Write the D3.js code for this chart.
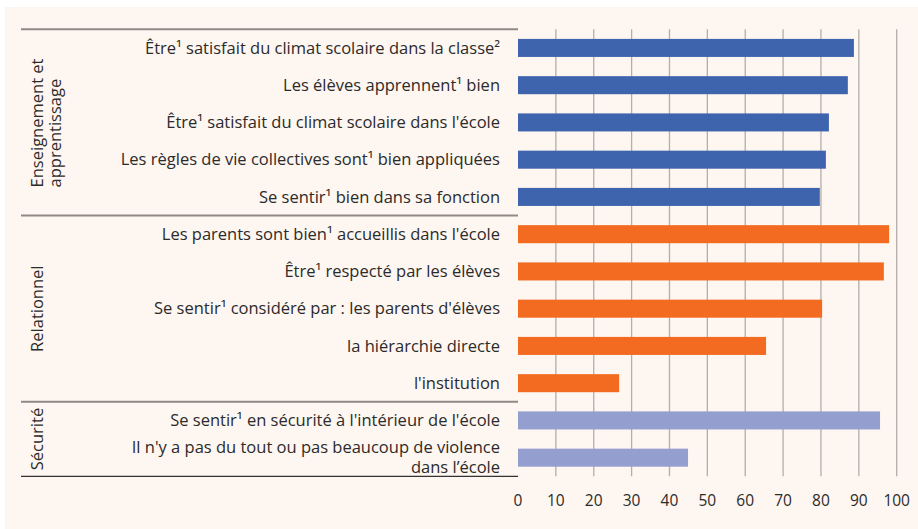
<!DOCTYPE html>
<html><head><meta charset="utf-8">
<script src="https://cdn.jsdelivr.net/npm/d3@7"></script>
<style>
html,body{margin:0;padding:0;background:#ffffff;}
svg{display:block;}
text{font-family:"Open Sans",sans-serif;fill:#2b2b2b;}
</style></head>
<body>
<svg id="chart" width="918" height="529"></svg>
<script>
const categories = [
  "Être¹ satisfait du climat scolaire dans la classe²",
  "Les élèves apprennent¹ bien",
  "Être¹ satisfait du climat scolaire dans l'école",
  "Les règles de vie collectives sont¹ bien appliquées",
  "Se sentir¹ bien dans sa fonction",
  "Les parents sont bien¹ accueillis dans l'école",
  "Être¹ respecté par les élèves",
  "Se sentir¹ considéré par : les parents d'élèves",
  "la hiérarchie directe",
  "l'institution",
  "Se sentir¹ en sécurité à l'intérieur de l'école",
  "Il n'y a pas du tout ou pas beaucoup de violence|dans l’école"
];
const values = [88.7, 87.1, 82.1, 81.3, 79.7, 98.0, 96.6, 80.3, 65.5, 26.7, 95.6, 44.9];
const groupOf = [0,0,0,0,0,1,1,1,1,1,2,2];
const groups = ["Enseignement et|apprentissage", "Relationnel", "Sécurité"];
const groupColors = ["#3f64ae", "#f36b21", "#959fcf"];
const xTicks = [0,10,20,30,40,50,60,70,80,90,100];

const svg = d3.select("#chart");
svg.append("rect").attr("x",5).attr("y",7).attr("width",913).attr("height",522).attr("fill","#fef6f0");

const mLeft = 518, mRight = 896.7, mTop = 29.3, mBottom = 476.3;
const x = d3.scaleLinear().domain([0,100]).range([mLeft,mRight]);
const y = d3.scaleBand().domain(d3.range(categories.length)).range([mTop,mBottom]).paddingInner(0.516).paddingOuter(0.258);

// gridlines
svg.append("g").selectAll("line").data(xTicks.filter(d=>d>0)).join("line")
  .attr("x1",d=>x(d)).attr("x2",d=>x(d)).attr("y1",mTop).attr("y2",mBottom)
  .attr("stroke","#b3aeaa").attr("stroke-width",1.3);

// bars
svg.append("g").selectAll("rect").data(values).join("rect")
  .attr("x",x(0)).attr("y",(d,i)=>y(i)).attr("height",y.bandwidth())
  .attr("width",d=>x(d)-x(0)).attr("fill",(d,i)=>groupColors[groupOf[i]]);

// category labels
categories.forEach((c,i)=>{
  const lines = c.split("|");
  const cy = y(i)+y.bandwidth()/2;
  lines.forEach((l,k)=>{
    svg.append("text").attr("text-anchor","end").style("font-size","16.5px")
      .attr("x",mLeft-18).attr("y",cy + 5.8 + (k-(lines.length-1)/2)*20).text(l);
  });
});

// group separators
const boundaries = [mTop];
for(let i=1;i<categories.length;i++){ if(groupOf[i]!==groupOf[i-1]) boundaries.push(mTop + y.step()*i); }
boundaries.push(mBottom);
boundaries.forEach((b,k)=>{
  const last = k===boundaries.length-1;
  svg.append("line").attr("x1",21).attr("x2",mLeft).attr("y1",b).attr("y2",b)
    .attr("stroke", last ? "#333333" : "#8f8a86").attr("stroke-width", last ? 1.3 : 2);
});

// group labels
groups.forEach((g,gi)=>{
  const b0 = boundaries[gi], b1 = boundaries[gi+1];
  const cy = (b0+b1)/2;
  const lines = g.split("|");
  const t = svg.append("text").style("font-size","16.5px");
  if(lines.length===1){
    t.attr("transform",`translate(43,${cy}) rotate(-90)`).attr("text-anchor","middle").text(g);
  } else {
    t.attr("transform",`translate(52,${cy+65}) rotate(-90)`).attr("text-anchor","start");
    lines.forEach((l,k)=>{
      t.append("tspan").attr("x",0).attr("y",(k-(lines.length-1)/2)*18).text(l);
    });
  }
});

// x axis labels
svg.append("g").selectAll("text").data(xTicks).join("text")
  .attr("x",d=>x(d)).attr("y",506).attr("text-anchor","middle").style("font-size","15.5px").text(d=>d);
</script>
</body></html>
